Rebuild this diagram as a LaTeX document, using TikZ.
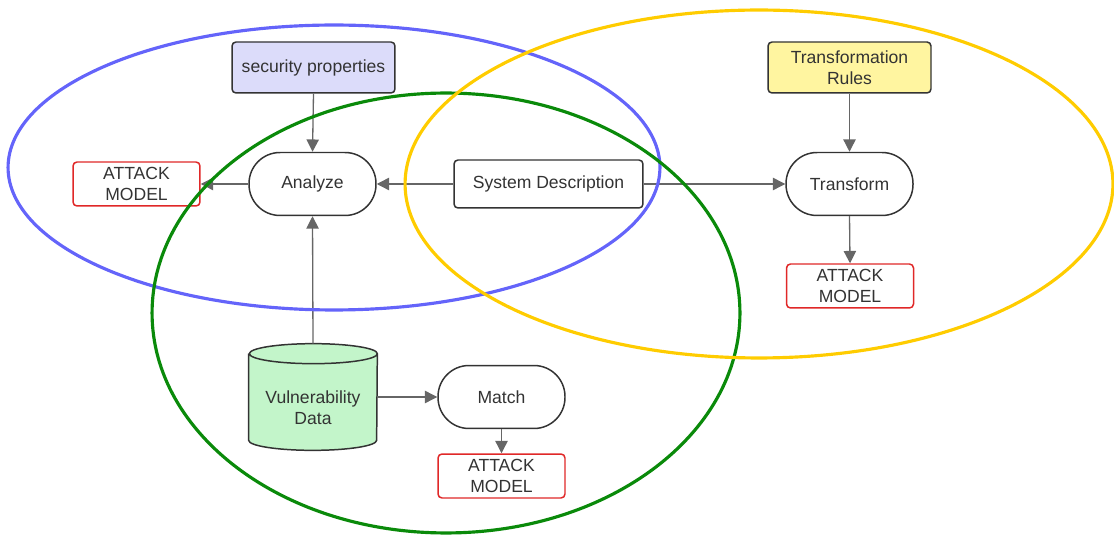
\documentclass[tikz,border=0pt]{standalone}
\usepackage{fontspec}
\setmainfont{Liberation Sans}
\usetikzlibrary{arrows.meta,calc}
\definecolor{txt}{HTML}{333333}
\definecolor{arr}{HTML}{666666}
\definecolor{bord}{HTML}{333333}
\definecolor{redb}{HTML}{E02828}
\definecolor{lav}{HTML}{DCDCFA}
\definecolor{lyel}{HTML}{FFF5A0}
\definecolor{lgrn}{HTML}{C3F5CA}
\definecolor{eblue}{HTML}{6464FA}
\definecolor{egreen}{HTML}{0A8A0A}
\definecolor{eyel}{HTML}{FFCC00}
\tikzset{
  base/.style={font=\fontsize{10}{12}\selectfont, text=txt, align=center, inner sep=0pt},
  inbox/.style={base, draw=bord, line width=0.85pt, rounded corners=0.08cm, minimum width=3.26cm, minimum height=1.02cm},
  pill/.style={base, draw=bord, line width=0.85pt, fill=white, rounded corners=0.62cm, minimum width=2.54cm, minimum height=1.26cm},
  sysbox/.style={base, draw=bord, line width=0.85pt, fill=white, rounded corners=0.08cm, minimum width=3.78cm, minimum height=0.96cm},
  attack/.style={base, draw=redb, line width=0.85pt, fill=white, rounded corners=0.08cm, minimum width=2.54cm, minimum height=0.88cm},
  conn/.style={draw=arr, line width=0.75pt, -{Triangle[length=7pt,width=7pt]}},
  ell/.style={line width=1.8pt}
}
\begin{document}
\begin{tikzpicture}[x=0.02cm,y=-0.02cm]
\useasboundingbox (0,0) rectangle (1114,536);
\node[inbox, fill=lav] (sp) at (313.5,67.5) {security properties};
\node[inbox, fill=lyel] (tr) at (849.5,67.5) {Transformation\\Rules};
\node[pill] (an) at (312.5,184) {Analyze};
\node[sysbox] (sd) at (548.5,184) {System Description};
\node[pill] (tf) at (849.5,184) {Transform};
\node[attack] (am1) at (136.5,184) {ATTACK\\MODEL};
\node[attack] (am2) at (850,286) {ATTACK\\MODEL};
\node[pill] (ma) at (501.5,397) {Match};
\node[attack] (am3) at (501.5,476) {ATTACK\\MODEL};
% cylinder
\node[base, minimum width=2.56cm, minimum height=2.12cm] (vd) at (313,397) {};
\fill[lgrn] ($(vd.north west)+(0,10)$) -- ($(vd.south west)+(0,-10)$)
  arc[start angle=180,end angle=360,x radius=1.28cm,y radius=0.2cm]
  -- ($(vd.north east)+(0,10)$)
  arc[start angle=0,end angle=180,x radius=1.28cm,y radius=0.2cm] -- cycle;
\draw[bord, line width=0.85pt] ($(vd.north west)+(0,10)$) -- ($(vd.south west)+(0,-10)$)
  arc[start angle=180,end angle=360,x radius=1.28cm,y radius=0.2cm]
  -- ($(vd.north east)+(0,10)$)
  arc[start angle=0,end angle=180,x radius=1.28cm,y radius=0.2cm]
  arc[start angle=180,end angle=360,x radius=1.28cm,y radius=0.2cm];
\node[base] at ($(vd.center)+(0,11)$) {Vulnerability\\Data};
% connectors
\draw[conn] (sp.south) -- (an.north);
\draw[conn] (an.west) -- (am1.east);
\draw[conn] (sd.west) -- (an.east);
\draw[conn] (sd.east) -- (tf.west);
\draw[conn] (tr.south) -- (tf.north);
\draw[conn] (tf.south) -- (am2.north);
\draw[conn] (vd.north) -- (an.south);
\draw[conn] (vd.east) -- (ma.west);
\draw[conn] (ma.south) -- (am3.north);
% ellipses
\draw[ell, eblue] (334,167.5) ellipse [x radius=6.52cm, y radius=2.85cm];
\draw[ell, egreen] (446,313) ellipse [x radius=5.88cm, y radius=4.4cm];
\draw[ell, eyel] (759,184) ellipse [x radius=7.08cm, y radius=3.48cm];
\end{tikzpicture}
\end{document}
